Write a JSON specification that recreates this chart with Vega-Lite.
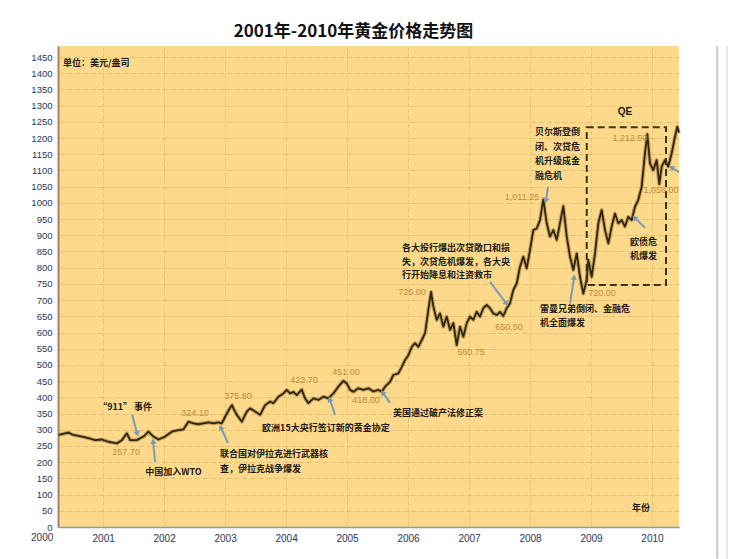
{
  "$schema": "https://vega.github.io/schema/vega-lite/v6.json",
  "autosize": "none",
  "width": 621,
  "height": 481,
  "padding": {"left": 58, "top": 46, "right": 67, "bottom": 32},
  "background": "#ffffff",
  "title": {"text": "2001年-2010年黄金价格走势图", "font": "Noto Sans CJK SC", "fontSize": 17, "fontWeight": "bold", "color": "#111111", "anchor": "middle", "offset": 4, "dx": -15},
  "config": {"view": {"fill": "#FCD98B", "stroke": null}},
  "datasets": {
    "gold": [
      {"year": 2000.267, "price": 284}, {"year": 2000.431, "price": 291}, {"year": 2000.513, "price": 284}, {"year": 2000.651, "price": 279},
      {"year": 2000.759, "price": 274}, {"year": 2000.869, "price": 268}, {"year": 2000.979, "price": 270}, {"year": 2001.087, "price": 263},
      {"year": 2001.225, "price": 258}, {"year": 2001.307, "price": 268}, {"year": 2001.389, "price": 289}, {"year": 2001.443, "price": 268},
      {"year": 2001.552, "price": 268}, {"year": 2001.661, "price": 279}, {"year": 2001.743, "price": 294}, {"year": 2001.825, "price": 279},
      {"year": 2001.907, "price": 270}, {"year": 2002.016, "price": 279}, {"year": 2002.126, "price": 294}, {"year": 2002.234, "price": 299},
      {"year": 2002.316, "price": 301}, {"year": 2002.398, "price": 325}, {"year": 2002.48, "price": 320}, {"year": 2002.562, "price": 317},
      {"year": 2002.644, "price": 320}, {"year": 2002.726, "price": 323}, {"year": 2002.808, "price": 320}, {"year": 2002.89, "price": 323},
      {"year": 2002.946, "price": 320}, {"year": 2003.0, "price": 340}, {"year": 2003.082, "price": 368}, {"year": 2003.115, "price": 376},
      {"year": 2003.136, "price": 366}, {"year": 2003.192, "price": 346}, {"year": 2003.274, "price": 325}, {"year": 2003.356, "price": 356},
      {"year": 2003.41, "price": 366}, {"year": 2003.492, "price": 356}, {"year": 2003.574, "price": 346}, {"year": 2003.656, "price": 376},
      {"year": 2003.738, "price": 387}, {"year": 2003.792, "price": 382}, {"year": 2003.874, "price": 402}, {"year": 2003.956, "price": 412},
      {"year": 2004.011, "price": 423}, {"year": 2004.066, "price": 412}, {"year": 2004.12, "price": 417}, {"year": 2004.175, "price": 407},
      {"year": 2004.257, "price": 424}, {"year": 2004.311, "price": 397}, {"year": 2004.366, "price": 382}, {"year": 2004.448, "price": 397},
      {"year": 2004.53, "price": 392}, {"year": 2004.611, "price": 402}, {"year": 2004.693, "price": 397}, {"year": 2004.775, "price": 412},
      {"year": 2004.857, "price": 433}, {"year": 2004.939, "price": 451}, {"year": 2004.995, "price": 443}, {"year": 2005.049, "price": 423},
      {"year": 2005.103, "price": 417}, {"year": 2005.185, "price": 428}, {"year": 2005.267, "price": 423}, {"year": 2005.349, "price": 428},
      {"year": 2005.431, "price": 418}, {"year": 2005.513, "price": 423}, {"year": 2005.569, "price": 417}, {"year": 2005.623, "price": 433},
      {"year": 2005.705, "price": 448}, {"year": 2005.759, "price": 469}, {"year": 2005.841, "price": 474}, {"year": 2005.897, "price": 494},
      {"year": 2005.951, "price": 515}, {"year": 2006.005, "price": 530}, {"year": 2006.061, "price": 556}, {"year": 2006.115, "price": 567},
      {"year": 2006.169, "price": 556}, {"year": 2006.225, "price": 577}, {"year": 2006.279, "price": 598}, {"year": 2006.333, "price": 670},
      {"year": 2006.377, "price": 725}, {"year": 2006.415, "price": 680}, {"year": 2006.47, "price": 639}, {"year": 2006.525, "price": 659},
      {"year": 2006.579, "price": 618}, {"year": 2006.634, "price": 649}, {"year": 2006.689, "price": 608}, {"year": 2006.743, "price": 629},
      {"year": 2006.798, "price": 561}, {"year": 2006.852, "price": 618}, {"year": 2006.907, "price": 587}, {"year": 2006.962, "price": 629},
      {"year": 2007.016, "price": 649}, {"year": 2007.07, "price": 639}, {"year": 2007.126, "price": 664}, {"year": 2007.18, "price": 649},
      {"year": 2007.234, "price": 675}, {"year": 2007.29, "price": 685}, {"year": 2007.344, "price": 675}, {"year": 2007.398, "price": 659},
      {"year": 2007.454, "price": 654}, {"year": 2007.508, "price": 664}, {"year": 2007.562, "price": 651}, {"year": 2007.618, "price": 675},
      {"year": 2007.672, "price": 690}, {"year": 2007.726, "price": 731}, {"year": 2007.782, "price": 752}, {"year": 2007.836, "price": 803},
      {"year": 2007.89, "price": 834}, {"year": 2007.946, "price": 798}, {"year": 2008.0, "price": 855}, {"year": 2008.054, "price": 916},
      {"year": 2008.11, "price": 921}, {"year": 2008.164, "price": 947}, {"year": 2008.218, "price": 1011}, {"year": 2008.274, "price": 937},
      {"year": 2008.328, "price": 896}, {"year": 2008.382, "price": 916}, {"year": 2008.438, "price": 886}, {"year": 2008.492, "price": 937},
      {"year": 2008.546, "price": 990}, {"year": 2008.602, "price": 896}, {"year": 2008.656, "price": 834}, {"year": 2008.71, "price": 793},
      {"year": 2008.766, "price": 844}, {"year": 2008.82, "price": 772}, {"year": 2008.874, "price": 720}, {"year": 2008.93, "price": 762},
      {"year": 2008.956, "price": 824}, {"year": 2009.011, "price": 772}, {"year": 2009.066, "price": 844}, {"year": 2009.12, "price": 937},
      {"year": 2009.175, "price": 978}, {"year": 2009.23, "price": 916}, {"year": 2009.284, "price": 875}, {"year": 2009.339, "price": 927},
      {"year": 2009.393, "price": 967}, {"year": 2009.448, "price": 937}, {"year": 2009.503, "price": 947}, {"year": 2009.557, "price": 927},
      {"year": 2009.611, "price": 957}, {"year": 2009.667, "price": 947}, {"year": 2009.721, "price": 988}, {"year": 2009.775, "price": 1009},
      {"year": 2009.831, "price": 1050}, {"year": 2009.885, "price": 1153}, {"year": 2009.923, "price": 1212}, {"year": 2009.967, "price": 1122},
      {"year": 2010.021, "price": 1101}, {"year": 2010.077, "price": 1132}, {"year": 2010.12, "price": 1058}, {"year": 2010.159, "price": 1112},
      {"year": 2010.213, "price": 1132}, {"year": 2010.267, "price": 1112}, {"year": 2010.323, "price": 1153}, {"year": 2010.377, "price": 1204},
      {"year": 2010.415, "price": 1235}, {"year": 2010.443, "price": 1216}
    ],
    "values": [
      {"year": 2001.377, "price": 231, "label": "257.70"},
      {"year": 2002.508, "price": 352, "label": "324.10"},
      {"year": 2003.213, "price": 404, "label": "375.80"},
      {"year": 2004.295, "price": 454, "label": "423.70"},
      {"year": 2004.984, "price": 478, "label": "451.00"},
      {"year": 2005.311, "price": 392, "label": "418.00"},
      {"year": 2006.066, "price": 725, "label": "725.00"},
      {"year": 2007.033, "price": 540, "label": "560.75"},
      {"year": 2007.656, "price": 617, "label": "650.50"},
      {"year": 2007.869, "price": 1018, "label": "1,011.25"},
      {"year": 2009.639, "price": 1200, "label": "1,212.50"},
      {"year": 2010.148, "price": 1040, "label": "1,058.00"},
      {"year": 2009.18, "price": 722, "label": "720.00"}
    ],
    "notes": [
      {"year": 2000.918, "price": 370, "text": "“911” 事件"},
      {"year": 2001.689, "price": 170, "text": "中国加入WTO"},
      {"year": 2002.918, "price": 225, "text": "联合国对伊拉克进行武器核"},
      {"year": 2002.918, "price": 179, "text": "查，伊拉克战争爆发"},
      {"year": 2003.607, "price": 305, "text": "欧洲15大央行签订新的黄金协定"},
      {"year": 2005.754, "price": 352, "text": "美国通过破产法修正案"},
      {"year": 2005.902, "price": 861, "text": "各大投行爆出次贷敞口和损"},
      {"year": 2005.902, "price": 819, "text": "失，次贷危机爆发，各大央"},
      {"year": 2005.902, "price": 777, "text": "行开始降息和注资救市"},
      {"year": 2008.082, "price": 1219, "text": "贝尔斯登倒"},
      {"year": 2008.082, "price": 1173, "text": "闭、次贷危"},
      {"year": 2008.082, "price": 1128, "text": "机升级成金"},
      {"year": 2008.082, "price": 1083, "text": "融危机"},
      {"year": 2008.164, "price": 672, "text": "雷曼兄弟倒闭、金融危"},
      {"year": 2008.164, "price": 630, "text": "机全面爆发"},
      {"year": 2009.639, "price": 879, "text": "欧债危"},
      {"year": 2009.639, "price": 836, "text": "机爆发"},
      {"year": 2000.344, "price": 1432, "text": "单位：美元/盎司"},
      {"year": 2009.672, "price": 59, "text": "年份"}
    ],
    "arrows": [
      {"x1": 2001.475, "p1": 346, "x2": 2001.557, "p2": 290, "angle": 164},
      {"x1": 2001.852, "p1": 201, "x2": 2001.82, "p2": 262, "angle": -6},
      {"x1": 2003.049, "p1": 259, "x2": 2002.934, "p2": 305, "angle": -25},
      {"x1": 2004.803, "p1": 346, "x2": 2004.721, "p2": 392, "angle": -18},
      {"x1": 2005.705, "p1": 383, "x2": 2005.59, "p2": 413, "angle": -35},
      {"x1": 2007.344, "p1": 756, "x2": 2007.607, "p2": 691, "angle": 143},
      {"x1": 2008.295, "p1": 1049, "x2": 2008.262, "p2": 1009, "angle": -171},
      {"x1": 2008.656, "p1": 690, "x2": 2008.721, "p2": 768, "angle": 8},
      {"x1": 2009.885, "p1": 923, "x2": 2009.721, "p2": 953, "angle": -45},
      {"x1": 2010.443, "p1": 1095, "x2": 2010.328, "p2": 1108, "angle": -60}
    ],
    "box": [{"x1": 2008.93, "x2": 2010.23, "p1": 747, "p2": 1233}],
    "qe": [{"year": 2009.557, "price": 1280, "text": "QE"}],
    "start": [{"year": 2000, "price": 0, "text": "2000"}],
    "frame": [{"year": 2011.07, "lo": -98, "hi": 1484, "c": "a"}, {"year": 2011.23, "lo": -98, "hi": 1484, "c": "b"}]
  },
  "encoding": {
    "x": {"field": "year", "type": "quantitative", "scale": {"domain": [2000.26, 2010.443], "nice": false, "zero": false},
      "axis": {"title": null, "values": [2001, 2002, 2003, 2004, 2005, 2006, 2007, 2008, 2009, 2010], "format": "d", "grid": true, "gridColor": "#D9AE62", "gridDash": [4, 3], "gridOpacity": 0.55, "ticks": false, "labelPadding": 6, "labelFont": "Liberation Sans", "labelFontSize": 10, "labelColor": "#2B3556", "domainColor": "#8E9AA8", "domainWidth": 1.5}},
    "y": {"field": "price", "type": "quantitative", "scale": {"domain": [0, 1484], "nice": false, "zero": true},
      "axis": {"title": null, "format": "d", "values": [0, 50, 100, 150, 200, 250, 300, 350, 400, 450, 500, 550, 600, 650, 700, 750, 800, 850, 900, 950, 1000, 1050, 1100, 1150, 1200, 1250, 1300, 1350, 1400, 1450], "grid": true, "gridColor": "#D9AE62", "gridDash": [5, 3], "gridOpacity": 0.6, "ticks": false, "labelPadding": 6, "labelFont": "Liberation Sans", "labelFontSize": 9.5, "labelColor": "#2B3556", "domainColor": "#A08472", "domainWidth": 2}}
  },
  "layer": [
    {"data": {"name": "frame"}, "mark": {"type": "rule", "clip": false, "strokeWidth": 2},
      "encoding": {"x": {"field": "year", "type": "quantitative"}, "y": {"field": "lo", "type": "quantitative"}, "y2": {"field": "hi"},
        "color": {"field": "c", "type": "nominal", "scale": {"domain": ["a", "b"], "range": ["#C9C9C9", "#E6E6E6"]}, "legend": null}}},
    {"data": {"name": "gold"}, "mark": {"type": "line", "color": "#9C7A3A", "strokeWidth": 4, "opacity": 0.55, "strokeJoin": "round"}},
    {"data": {"name": "gold"}, "mark": {"type": "line", "color": "#2E2410", "strokeWidth": 1.8, "strokeJoin": "round"}},
    {"data": {"name": "box"}, "mark": {"type": "rect", "fill": null, "stroke": "#3A3222", "strokeWidth": 2, "strokeDash": [7, 4]},
      "encoding": {"x": {"field": "x1", "type": "quantitative"}, "x2": {"field": "x2"}, "y": {"field": "p1", "type": "quantitative"}, "y2": {"field": "p2"}}},
    {"data": {"name": "arrows"}, "mark": {"type": "rule", "color": "#7C9AB2", "strokeWidth": 2, "clip": false},
      "encoding": {"x": {"field": "x1", "type": "quantitative"}, "y": {"field": "p1", "type": "quantitative"}, "x2": {"field": "x2"}, "y2": {"field": "p2"}}},
    {"data": {"name": "arrows"}, "mark": {"type": "point", "shape": "triangle", "filled": true, "color": "#7C9AB2", "size": 40, "opacity": 1},
      "encoding": {"x": {"field": "x2", "type": "quantitative"}, "y": {"field": "p2", "type": "quantitative"}, "angle": {"field": "angle", "type": "quantitative", "scale": null}}},
    {"data": {"name": "values"}, "mark": {"type": "text", "font": "Liberation Sans", "fontSize": 9, "color": "#C38A3C", "align": "center", "baseline": "middle"},
      "encoding": {"text": {"field": "label"}}},
    {"data": {"name": "notes"}, "mark": {"type": "text", "font": "Noto Sans CJK SC", "fontSize": 9, "fontWeight": "bold", "color": "#1A1A1A", "align": "left", "baseline": "middle"},
      "encoding": {"text": {"field": "text"}}},
    {"data": {"name": "qe"}, "mark": {"type": "text", "font": "Liberation Sans", "fontSize": 10, "fontWeight": "bold", "color": "#1A1A1A", "align": "center", "baseline": "middle"},
      "encoding": {"text": {"field": "text"}}},
    {"data": {"name": "start"}, "mark": {"type": "text", "font": "Liberation Sans", "fontSize": 10, "color": "#2B3556", "align": "center", "baseline": "top", "dy": 6},
      "encoding": {"text": {"field": "text"}}}
  ]
}
